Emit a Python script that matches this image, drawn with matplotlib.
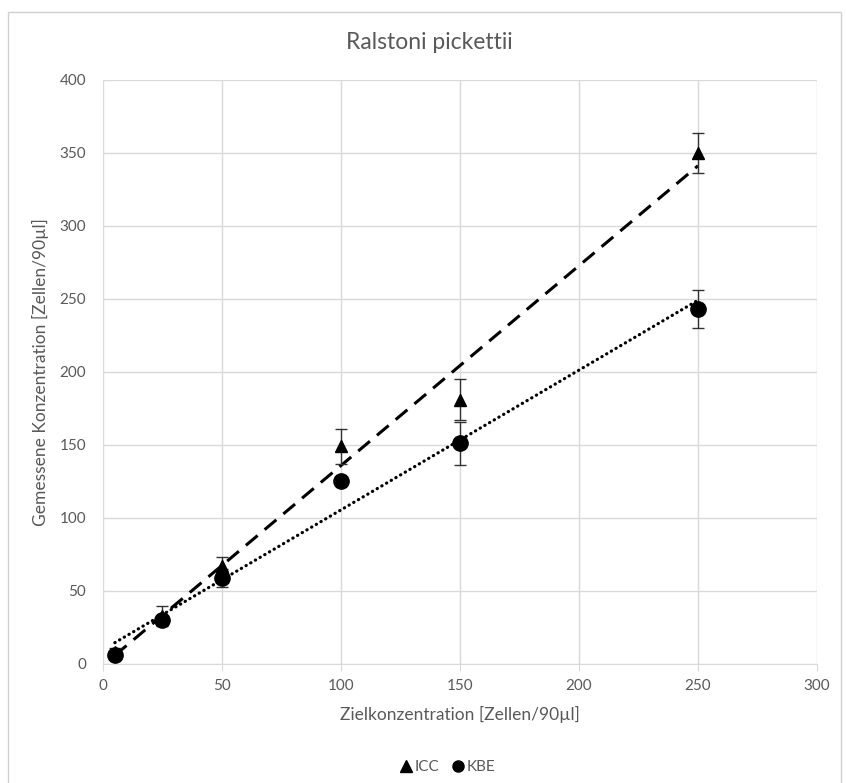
import numpy as np
import matplotlib.pyplot as plt
from matplotlib.patches import Rectangle
from matplotlib.lines import Line2D

plt.rcParams['font.family'] = ['Lato', 'DejaVu Sans']

# Daten
ziel = [5, 25, 50, 100, 150, 250]
icc = [8, 33, 67, 149, 181, 350]
icc_err = [3, 7, 6, 12, 14, 13.5]
kbe = [6, 30, 59, 125, 151, 243]
kbe_err = [2, 3, 6, 3, 15, 13]

grau = '#595959'
gitter = '#d9d9d9'

fig = plt.figure(figsize=(8.46, 7.83), dpi=100)
ax = fig.add_axes([0.1217, 0.152, 0.844, 0.746])

# Rahmen um das Diagramm
fig.patches.append(Rectangle((0.009, -0.01), 0.985, 0.995, transform=fig.transFigure,
                             fill=False, edgecolor='#d0d0d0', linewidth=1))

# Fehlerbalken
ax.errorbar(ziel, icc, yerr=icc_err, fmt='none', ecolor='#333333', elinewidth=1,
            capsize=4, capthick=1, zorder=3)
ax.errorbar(ziel, kbe, yerr=kbe_err, fmt='none', ecolor='#333333', elinewidth=1,
            capsize=4, capthick=1, zorder=3)

# Messpunkte
ax.plot(ziel, icc, linestyle='none', marker='^', markersize=8, color='black', zorder=4)
ax.plot(ziel, kbe, linestyle='none', marker='o', markersize=11, color='black', zorder=4)

# Lineare Trendlinien
x_fit = np.array([min(ziel), max(ziel)])
m1, b1 = np.polyfit(ziel, icc, 1)
m2, b2 = np.polyfit(ziel, kbe, 1)
ax.plot(x_fit, m1 * x_fit + b1, color='black', linewidth=2.2,
        linestyle=(0, (5, 3)), zorder=2)
ax.plot(x_fit, m2 * x_fit + b2, color='black', linewidth=2.3,
        linestyle=(0, (0.1, 1.6)), dash_capstyle='round', zorder=2)

# Achsen
ax.set_xlim(0, 300)
ax.set_ylim(0, 400)
ax.set_xticks(range(0, 301, 50))
ax.set_yticks(range(0, 401, 50))
ax.grid(True, color=gitter, linewidth=1)
ax.set_axisbelow(True)
for s in ['top', 'right', 'left']:
    ax.spines[s].set_visible(False)
ax.spines['bottom'].set_color(gitter)
ax.tick_params(axis='x', colors=gitter, length=5, labelcolor=grau, labelsize=11, pad=6)
ax.tick_params(axis='y', length=0, labelcolor=grau, labelsize=11, pad=12)

ax.set_xlabel('Zielkonzentration [Zellen/90µl]', color=grau, fontsize=12.5, labelpad=9)
ax.set_ylabel('Gemessene Konzentration [Zellen/90µl]', color=grau, fontsize=12.5, labelpad=8)
fig.text(0.508, 0.946, 'Ralstoni pickettii', ha='center', va='center', color=grau, fontsize=16.5)

handles = [Line2D([], [], linestyle='none', marker='^', markersize=8, color='black'),
           Line2D([], [], linestyle='none', marker='o', markersize=8, color='black')]
fig.legend(handles, ['ICC', 'KBE'], loc='center', bbox_to_anchor=(0.528, 0.02), ncol=2,
           frameon=False, handletextpad=0.05, columnspacing=0.7, handlelength=1.0,
           labelcolor=grau, fontsize=11)

plt.savefig('out.png', dpi=100)
